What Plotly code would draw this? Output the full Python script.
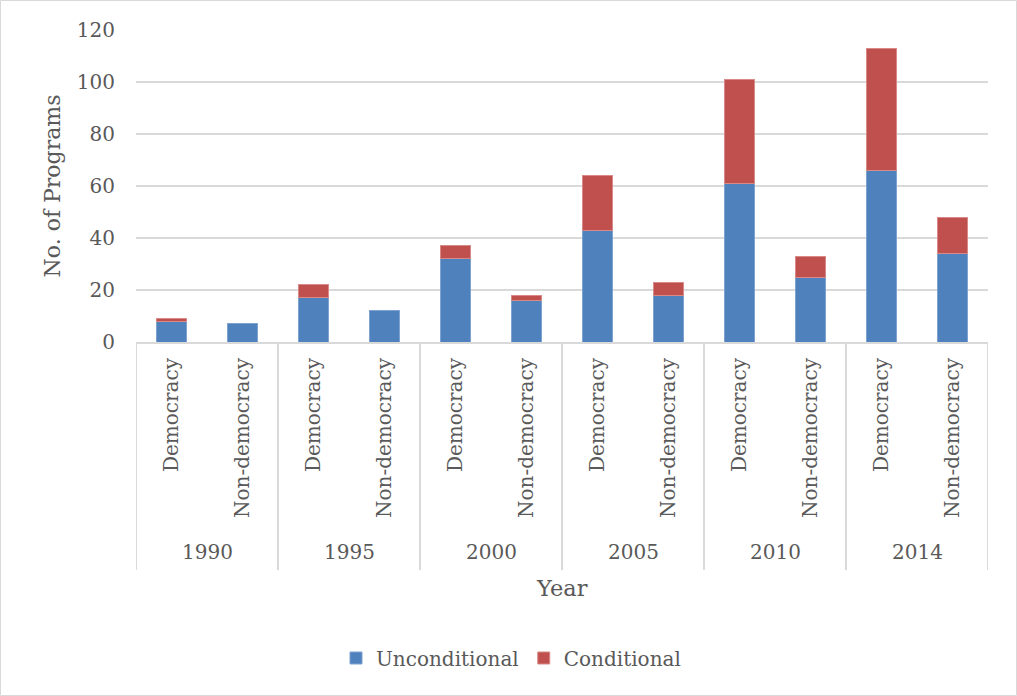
import plotly.graph_objects as go

years = ["1990", "1995", "2000", "2005", "2010", "2014"]
regimes = ["Democracy", "Non-democracy"]
unconditional = [8, 7, 17, 12, 32, 16, 43, 18, 61, 25, 66, 34]
conditional = [1, 0, 5, 0, 5, 2, 21, 5, 40, 8, 47, 14]

x_idx = list(range(len(years) * len(regimes)))
tick_text = [r for _ in years for r in regimes]

FONT = "DejaVu Serif"
GRAY = "#595959"
GRID = "#d9d9d9"

fig = go.Figure()
fig.add_trace(go.Bar(x=x_idx, y=unconditional, name="Unconditional",
                     marker=dict(color="#4f81bd",
                                 line=dict(color="#7ea3d3",
                                           width=[1 if v > 0 else 0 for v in unconditional])),
                     width=0.41))
fig.add_trace(go.Bar(x=x_idx, y=conditional, name="Conditional",
                     marker=dict(color="#c0504d",
                                 line=dict(color="#d88a88",
                                           width=[1 if v > 0 else 0 for v in conditional])),
                     width=0.41))

L, R, T, B = 136, 29, 30, 354
W, H = 1017, 696
pw, ph = W - L - R, H - T - B

def py(pix):
    return (H - B - pix) / ph

def px(pix):
    return (pix - L) / pw

shapes = []
for k in range(len(years) + 1):
    xv = -0.5 + k * len(regimes)
    shapes.append(dict(type="line", xref="x", yref="paper", x0=xv, x1=xv,
                       y0=0, y1=py(570), line=dict(color=GRID, width=2)))
shapes.append(dict(type="rect", xref="paper", yref="paper",
                   x0=px(0.5), x1=px(W - 0.5), y0=py(H - 0.5), y1=py(0.5),
                   line=dict(color=GRID, width=1), layer="below"))

annotations = []
for i, yr in enumerate(years):
    annotations.append(dict(x=i * len(regimes) + 0.5, y=py(552), xref="x", yref="paper",
                            text=yr, showarrow=False, yanchor="middle",
                            font=dict(family=FONT, size=20, color=GRAY)))
annotations.append(dict(x=px(562), y=py(588), xref="paper", yref="paper", text="Year",
                        showarrow=False, yanchor="middle",
                        font=dict(family=FONT, size=22.5, color=GRAY)))

fig.update_layout(
    barmode="stack",
    width=W, height=H,
    margin=dict(l=L, r=R, t=T, b=B, pad=0),
    paper_bgcolor="white", plot_bgcolor="white",
    font=dict(family=FONT, size=20, color=GRAY),
    showlegend=True,
    legend=dict(orientation="h", x=px(511), xanchor="center", y=py(658), yanchor="middle",
                font=dict(family=FONT, size=20, color=GRAY), itemwidth=30,
                traceorder="normal"),
    xaxis=dict(range=[-0.5, 11.5], tickmode="array", tickvals=x_idx, ticktext=tick_text,
               tickangle=-90, showgrid=False, zeroline=False, showline=True,
               linecolor=GRID, linewidth=2, ticks="", ticklabelstandoff=6),
    yaxis=dict(range=[0, 120], dtick=20, showgrid=True, gridcolor=GRID, gridwidth=2,
               zeroline=False, showline=False, ticks="", ticklabelstandoff=20,
               title=dict(text="No. of Programs", font=dict(family=FONT, size=22, color=GRAY),
                          standoff=10)),
    shapes=shapes,
    annotations=annotations,
    bargap=0.59,
)

fig.write_html("out.html")
